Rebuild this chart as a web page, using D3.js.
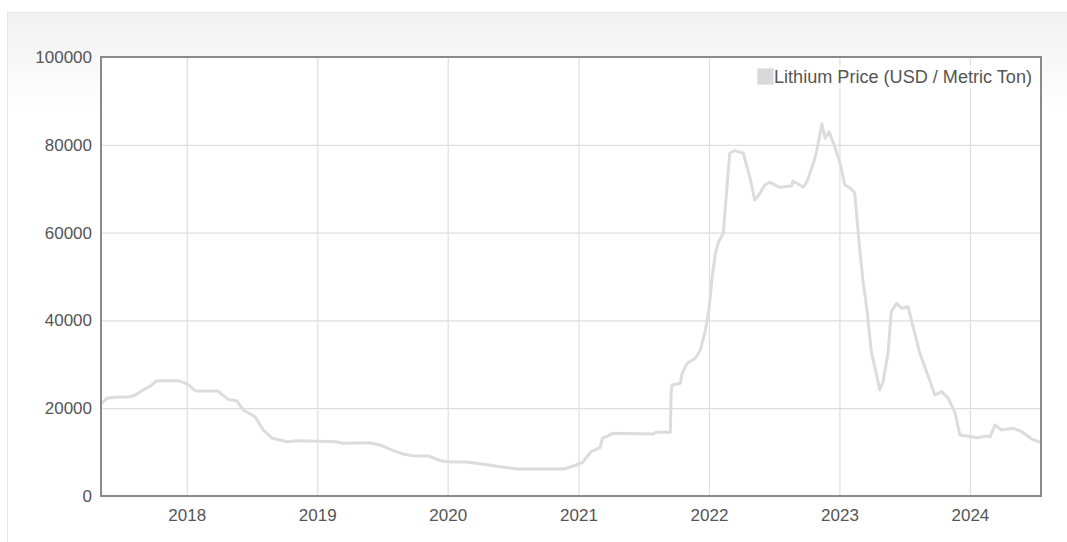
<!DOCTYPE html>
<html>
<head>
<meta charset="utf-8">
<script src="https://cdn.jsdelivr.net/npm/d3@7"></script>
<style>
  html, body { margin: 0; padding: 0; background: #fff; }
  svg { display: block; }
  text { font-family: "Liberation Sans", Arial, sans-serif; }
</style>
</head>
<body>
<svg id="chart" width="1067" height="542"></svg>
<script>
// ---- data ----
const dates = [
  "2017-05-06","2017-05-22","2017-06-15","2017-07-26","2017-08-10","2017-08-24","2017-09-21","2017-10-10",
  "2017-12-08","2018-01-03","2018-01-26","2018-03-29","2018-04-27","2018-05-21","2018-06-08","2018-07-11",
  "2018-08-03","2018-08-28","2018-10-09","2018-11-06","2019-02-22","2019-03-14","2019-05-28","2019-06-25",
  "2019-08-02","2019-08-30","2019-09-23","2019-11-09","2019-12-11","2020-01-01","2020-02-21","2020-04-11",
  "2020-06-06","2020-07-13","2020-11-22","2020-12-19","2021-01-12","2021-02-05","2021-03-02","2021-03-09",
  "2021-03-30","2021-04-05","2021-07-29","2021-08-04","2021-09-15","2021-09-17","2021-09-20","2021-10-13",
  "2021-10-18","2021-11-01","2021-11-24","2021-12-08","2021-12-22","2022-01-01","2022-01-10","2022-01-19",
  "2022-01-28","2022-02-10","2022-02-19","2022-02-28","2022-03-14","2022-04-07","2022-04-16","2022-04-25",
  "2022-05-09","2022-05-21","2022-06-06","2022-06-20","2022-07-18","2022-08-20","2022-08-24","2022-09-22",
  "2022-10-02","2022-10-20","2022-10-29","2022-11-13","2022-11-22","2022-12-03","2022-12-19","2023-01-04",
  "2023-01-16","2023-02-01","2023-02-13","2023-02-22","2023-02-28","2023-03-08","2023-03-19","2023-04-01",
  "2023-04-14","2023-04-24","2023-05-03","2023-05-17","2023-05-26","2023-06-10","2023-06-24","2023-07-12",
  "2023-07-31","2023-08-14","2023-09-07","2023-09-25","2023-10-14","2023-11-02","2023-11-21","2023-12-04",
  "2023-12-23","2024-01-21","2024-02-18","2024-02-27","2024-03-11","2024-03-30","2024-05-02","2024-05-25",
  "2024-06-23","2024-07-18"
];
const prices = [
  21000,22250,22500,22600,23000,23760,25060,26270,
  26270,25500,23900,23900,22000,21700,19600,18060,
  15000,13140,12370,12600,12370,12000,12140,11620,
  10320,9570,9180,9110,8040,7810,7740,7220,
  6540,6150,6150,6900,7590,10090,11000,13140,
  13900,14280,14120,14510,14510,23400,25300,25670,
  27950,30230,31370,33260,37810,42370,49960,55280,
  57930,59840,68950,78070,78660,78070,75400,72740,
  67430,68570,70840,71460,70320,70620,71750,70320,
  71600,75780,78430,84740,81480,82990,79570,75400,
  70840,70090,69000,60590,55280,49000,42370,32500,
  27950,24150,26040,32500,41980,43890,42750,43120,
  37060,32500,27180,23010,23760,22250,18840,13900,
  13670,13280,13670,13510,16170,15030,15420,14650,
  12920,12140
];
const yTicks = [0, 20000, 40000, 60000, 80000, 100000];
const xTickYears = ["2018","2019","2020","2021","2022","2023","2024"];
const seriesName = "Lithium Price (USD / Metric Ton)";

// ---- layout ----
const W = 1067, H = 542;
const plot = { left: 101, top: 57, right: 1041, bottom: 496 };
const parse = d3.timeParse("%Y-%m-%d");
const data = dates.map((d, i) => ({ date: parse(d), value: prices[i] }));

const svg = d3.select("#chart");
const defs = svg.append("defs");
const grad = defs.append("linearGradient").attr("id", "bg").attr("x1", 0).attr("y1", 0).attr("x2", 0).attr("y2", 1);
grad.append("stop").attr("offset", "0%").attr("stop-color", "#f1f1f1");
grad.append("stop").attr("offset", "18%").attr("stop-color", "#ffffff");
grad.append("stop").attr("offset", "100%").attr("stop-color", "#ffffff");

// container panel
svg.append("rect")
  .attr("x", 7.5).attr("y", 12.5).attr("width", W + 10).attr("height", H + 10)
  .attr("fill", "url(#bg)").attr("stroke", "#e6e6e6").attr("stroke-width", 1);

const x = d3.scaleTime()
  .domain(d3.extent(data, d => d.date))
  .range([plot.left, plot.right]);
const y = d3.scaleLinear()
  .domain([0, 100000])
  .range([plot.bottom, plot.top]);

// plot background
svg.append("rect")
  .attr("x", plot.left).attr("y", plot.top)
  .attr("width", plot.right - plot.left).attr("height", plot.bottom - plot.top)
  .attr("fill", "#fff");

const xTickDates = xTickYears.map(t => d3.timeParse("%Y")(t));

// gridlines
svg.append("g")
  .attr("transform", `translate(0,${plot.bottom})`)
  .call(d3.axisBottom(x).tickValues(xTickDates).tickSize(-(plot.bottom - plot.top)).tickFormat(""))
  .call(g => g.select(".domain").remove())
  .call(g => g.selectAll("line").attr("stroke", "#dedede").attr("stroke-width", 1.2));
svg.append("g")
  .attr("transform", `translate(${plot.left},0)`)
  .call(d3.axisLeft(y).tickValues(yTicks).tickSize(-(plot.right - plot.left)).tickFormat(""))
  .call(g => g.select(".domain").remove())
  .call(g => g.selectAll("line").attr("stroke", "#dedede").attr("stroke-width", 1.2));

// line
svg.append("path")
  .datum(data)
  .attr("fill", "none")
  .attr("stroke", "#dcdcdc")
  .attr("stroke-width", 3)
  .attr("stroke-linejoin", "round")
  .attr("d", d3.line().x(d => x(d.date)).y(d => y(d.value)));

// frame
svg.append("rect")
  .attr("x", plot.left).attr("y", plot.top)
  .attr("width", plot.right - plot.left).attr("height", plot.bottom - plot.top)
  .attr("fill", "none").attr("stroke", "#8a8a8a").attr("stroke-width", 2);

// tick labels
svg.append("g")
  .attr("transform", `translate(${plot.left},0)`)
  .call(d3.axisLeft(y).tickValues(yTicks).tickSize(0).tickPadding(9).tickFormat(d3.format("d")))
  .call(g => g.select(".domain").remove())
  .call(g => g.selectAll("text").attr("fill", "#555").style("font-size", "17px")
    .style("font-family", "'Liberation Sans', Arial, sans-serif"));
svg.append("g")
  .attr("transform", `translate(0,${plot.bottom})`)
  .call(d3.axisBottom(x).tickValues(xTickDates).tickSize(0).tickPadding(13).tickFormat(d3.timeFormat("%Y")))
  .call(g => g.select(".domain").remove())
  .call(g => g.selectAll("text").attr("fill", "#555").style("font-size", "17px")
    .style("font-family", "'Liberation Sans', Arial, sans-serif"));

// legend
const lg = svg.append("g").attr("transform", "translate(756,66)");
lg.append("rect").attr("x", -1).attr("y", -1).attr("width", 280).attr("height", 23)
  .attr("fill", "#fff").attr("fill-opacity", 0.6);
lg.append("rect").attr("x", 1.5).attr("y", 2.5).attr("width", 16).attr("height", 16)
  .attr("fill", "#d9d9d9").attr("stroke", "#e8e8e8").attr("stroke-width", 1);
lg.append("text").attr("x", 18).attr("y", 16.5)
  .attr("fill", "#555").style("font-size", "18px")
  .attr("textLength", 258).attr("lengthAdjust", "spacingAndGlyphs")
  .text(seriesName);
</script>
</body>
</html>
